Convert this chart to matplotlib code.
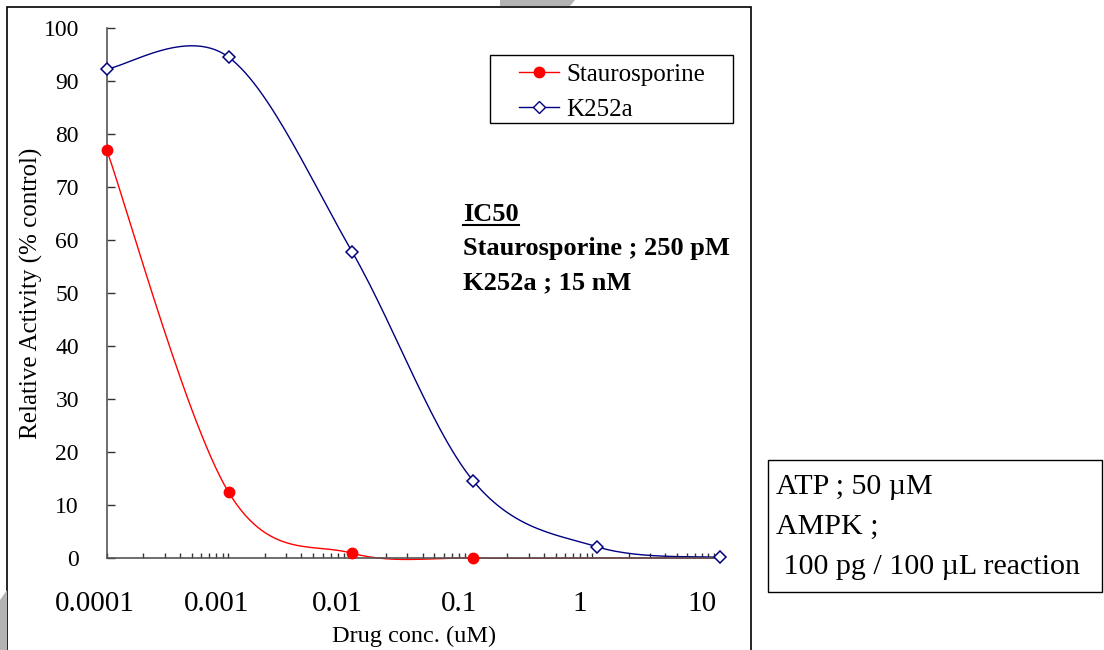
import numpy as np
import matplotlib
matplotlib.use('Agg')
import matplotlib.pyplot as plt
from matplotlib.lines import Line2D
from matplotlib.patches import Rectangle, Polygon
from matplotlib.transforms import ScaledTranslation

# data
conc_stauro = [0.0001, 0.00101, 0.0105, 0.105, 1.1, 11.3]
act_stauro = [77.0, 12.4, 0.9, 0.0, 0.0, 0.0]
conc_k252a = [0.0001, 0.00101, 0.0105, 0.105, 1.1, 11.3]
act_k252a = [92.3, 94.5, 57.8, 14.5, 2.1, 0.1]
xtick_vals = [0.0001, 0.001, 0.01, 0.1, 1, 10]
xtick_text = ['0.0001', '0.001', '0.01', '0.1', '1', '10']
ytick_vals = [0, 10, 20, 30, 40, 50, 60, 70, 80, 90, 100]

plt.rcParams['font.family'] = ['Liberation Serif', 'DejaVu Serif']


def smooth(xs, ys, n=30):
    # excel style smoothed line (bezier through points), in log-x space
    lx = np.log10(xs)
    y = np.asarray(ys, dtype=float)
    px = np.concatenate([[lx[0]], lx, [lx[-1]]])
    py = np.concatenate([[y[0]], y, [y[-1]]])
    outx, outy = [], []
    t = np.linspace(0, 1, n)
    for i in range(1, len(px) - 2):
        p0 = np.array([px[i], py[i]])
        p3 = np.array([px[i + 1], py[i + 1]])
        c1 = p0 + (np.array([px[i + 1], py[i + 1]]) - np.array([px[i - 1], py[i - 1]])) / 6
        c2 = p3 - (np.array([px[i + 2], py[i + 2]]) - np.array([px[i], py[i]])) / 6
        b = ((1 - t) ** 3)[:, None] * p0 + (3 * (1 - t) ** 2 * t)[:, None] * c1 \
            + (3 * (1 - t) * t ** 2)[:, None] * c2 + (t ** 3)[:, None] * p3
        outx.extend(b[:, 0])
        outy.extend(b[:, 1])
    return 10 ** np.array(outx), np.array(outy)


fig = plt.figure(figsize=(11.04, 6.5), dpi=100)
W, H = 1104, 650
ax = fig.add_axes([106.7 / W, 1 - 558 / H, (721 - 106.7) / W, (558 - 28) / H])

sx, sy = smooth(conc_stauro, act_stauro)
kx, ky = smooth(conc_k252a, act_k252a)
ax.plot(sx, sy, color='#ff0000', lw=1.0, clip_on=False)
ax.plot(kx, ky, color='#000080', lw=1.0, clip_on=False)
ax.plot(conc_stauro[:4], act_stauro[:4], ls='none', marker='o', ms=7.5,
        color='#ff0000', clip_on=False, zorder=5)
ax.plot(conc_k252a, act_k252a, ls='none', marker='D', ms=6.5, mfc='white',
        mec='#000080', mew=1.1, clip_on=False, zorder=5)

ax.set_xscale('log')
ax.set_xlim(0.0001, 11.5)
ax.set_ylim(0, 100)
for s in ['top', 'right']:
    ax.spines[s].set_visible(False)
for s in ['left', 'bottom']:
    ax.spines[s].set_color('#555555')
    ax.spines[s].set_linewidth(1.2)

ax.set_yticks(ytick_vals)
ax.set_yticklabels([str(v) for v in ytick_vals])
ax.tick_params(axis='y', direction='in', length=6, width=1, color='#333333',
               labelsize=17, pad=20)
ax.set_xticks(xtick_vals)
ax.set_xticklabels(xtick_text)
ax.xaxis.set_minor_locator(matplotlib.ticker.LogLocator(base=10, subs=np.arange(2, 10)))
ax.xaxis.set_minor_formatter(matplotlib.ticker.NullFormatter())
ax.tick_params(axis='x', which='both', direction='in', length=3.8, width=1,
               color='#333333')
ax.tick_params(axis='x', which='major', labelsize=21, pad=24)
for lab in ax.get_xticklabels():
    lab.set_transform(lab.get_transform() + ScaledTranslation(-12 / 100, 0, fig.dpi_scale_trans))

ax.set_xlabel('Drug conc. (uM)', fontsize=17.5, labelpad=6)
ax.set_ylabel('Relative Activity (% control)', fontsize=18)
ax.yaxis.set_label_coords((43 - 106.7) / (721 - 106.7), 0.5)

# legend, frame drawn separately
h1 = Line2D([], [], color='#ff0000', lw=1.0, marker='o', ms=7.5)
h2 = Line2D([], [], color='#000080', lw=1.0, marker='D', ms=6.5, mfc='white', mec='#000080')
leg = fig.legend([h1, h2], ['Staurosporine', 'K252a'], loc='upper left',
                 bbox_to_anchor=(519 / W, 1 - 63 / H), fontsize=18, frameon=False,
                 handlelength=1.6, handletextpad=0.28, labelspacing=0.5,
                 borderpad=0, borderaxespad=0)
fig.patches.append(Rectangle((490 / W, 1 - 123 / H), (733 - 490) / W, (123 - 55) / H,
                             transform=fig.transFigure, fill=False, ec='black', lw=1))

# IC50 annotation
t_ic = fig.text(463 / W, 1 - 221 / H, 'IC50', fontsize=19, fontweight='bold', va='baseline')
fig.text(463 / W, 1 - 255 / H, 'Staurosporine ; 250 pM', fontsize=19, fontweight='bold', va='baseline')
fig.text(463 / W, 1 - 289 / H, 'K252a ; 15 nM', fontsize=19, fontweight='bold', va='baseline')

# conditions box
fig.text(776 / W, 1 - 494 / H, 'ATP ; 50 \u00b5M', fontsize=21.6, va='baseline')
fig.text(776 / W, 1 - 534 / H, 'AMPK ;', fontsize=21.6, va='baseline')
fig.text(776 / W, 1 - 574 / H, ' 100 pg / 100 \u00b5L reaction', fontsize=21.6, va='baseline')
fig.patches.append(Rectangle((768 / W, 1 - 592 / H), (1102 - 768) / W, (592 - 460) / H,
                             transform=fig.transFigure, fill=False, ec='black', lw=1))

# outer chart frame
fig.patches.append(Rectangle((7 / W, -0.05), (751 - 7) / W, 1.05 - 7 / H,
                             transform=fig.transFigure, fill=False, ec='black', lw=1.2))

# grey marks at edges
fig.patches.append(Polygon([(500 / W, 1.0), (575 / W, 1.0), (570 / W, 1 - 6 / H), (500 / W, 1 - 6 / H)],
                           closed=True, transform=fig.transFigure, fc='#b3b3b3', ec='none'))
fig.patches.append(Polygon([(0, 1 - 600 / H), (7 / W, 1 - 590 / H), (7 / W, 0), (0, 0)],
                           closed=True, transform=fig.transFigure, fc='#b3b3b3', ec='none'))

# underline for IC50
fig.canvas.draw()
bb = t_ic.get_window_extent()
fig.add_artist(Line2D([bb.x0, bb.x1], [bb.y0 + 1, bb.y0 + 1], color='black', lw=1.5,
                      transform=None))

fig.savefig('out.png', dpi=100)
